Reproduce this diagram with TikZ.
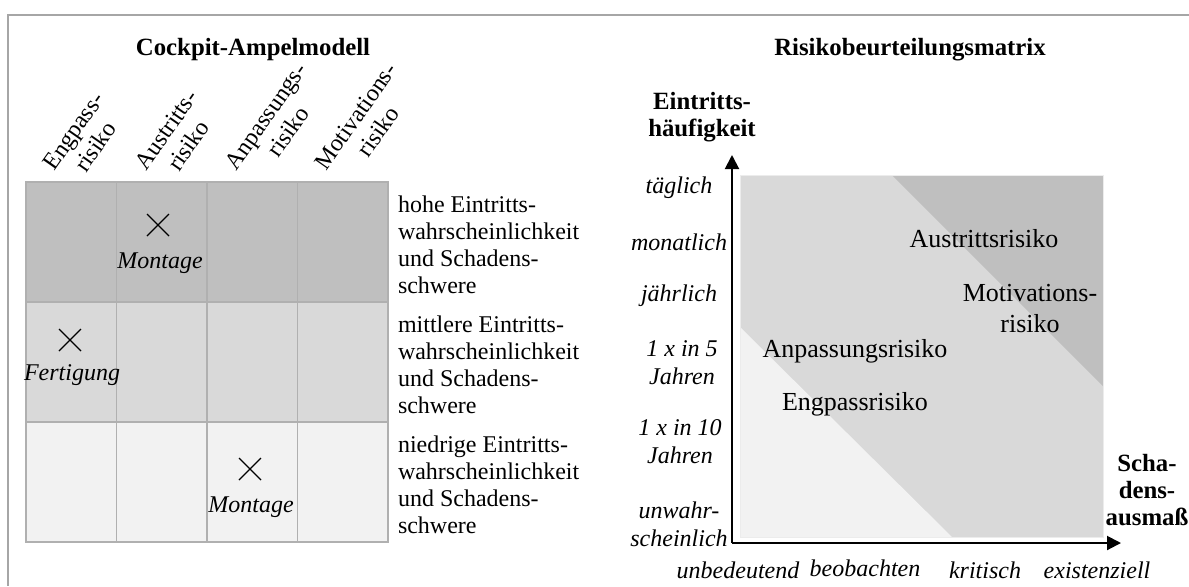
\documentclass[tikz,border=0pt]{standalone}
\usepackage{fontspec}
\setmainfont{Liberation Serif}
\usetikzlibrary{arrows.meta,shapes.misc}

\definecolor{riskhigh}{HTML}{BFBFBF}
\definecolor{riskmid}{HTML}{D9D9D9}
\definecolor{risklow}{HTML}{F2F2F2}
\definecolor{gridline}{HTML}{B0B0B0}
\definecolor{framegray}{HTML}{A6A6A6}

\begin{document}
\begin{tikzpicture}[x=0.5pt,y=-0.5pt,
  every node/.style={inner sep=0pt,outer sep=0pt},
  bodytext/.style={font=\fontsize{12}{13.5}\selectfont},
  heading/.style={font=\fontsize{12.4}{13.5}\selectfont\bfseries,align=center},
  colhead/.style={bodytext,align=center,rotate=55,anchor=south west},
  cellbox/.style={draw=gridline,line width=0.7pt,minimum width=45.25pt,minimum height=60pt},
  xmark/.style={draw,cross out,line width=0.6pt,minimum size=11pt},
  placetext/.style={font=\fontsize{12}{13.5}\selectfont\itshape},
  rowtext/.style={bodytext,align=left,anchor=west},
  scalelabel/.style={font=\fontsize{12}{14}\selectfont\itshape,align=center},
  zone/.style={font=\fontsize{13}{15.5}\selectfont,align=center},
  axisline/.style={line width=1pt,-{Triangle[length=7pt,width=7pt]}}
]
\useasboundingbox (0,0) rectangle (1189,586);

% frame
\draw[framegray,line width=1pt] (1189,15) -- (8,15) -- (8,586);

% ---------- Cockpit-Ampelmodell ----------
\node[heading] (titleL) at (253,50) {Cockpit-Ampelmodell};

\node[colhead] (h1) at (77,187)  {Engpass-\\risiko};
\node[colhead] (h2) at (169,187) {Austritts-\\risiko};
\node[colhead] (h3) at (259,187) {Anpassungs-\\risiko};
\node[colhead] (h4) at (349,187) {Motivations-\\risiko};

\foreach \c/\x in {1/71.25,2/161.75,3/252.25,4/342.75}{
  \node[cellbox,fill=riskhigh] (r1c\c) at (\x,242) {};
  \node[cellbox,fill=riskmid]  (r2c\c) at (\x,362) {};
  \node[cellbox,fill=risklow]  (r3c\c) at (\x,482) {};
}

\node[xmark] (x1) at (158,225) {};
\node[placetext] (p1) at (160,263) {Montage};
\node[xmark] (x2) at (70,340) {};
\node[placetext] (p2) at (72,375) {Fertigung};
\node[xmark] (x3) at (250,469) {};
\node[placetext] (p3) at (251,507) {Montage};

\node[rowtext] (d1) at (398,245) {hohe Eintritts-\\wahrscheinlichkeit\\und Schadens-\\schwere};
\node[rowtext] (d2) at (398,365) {mittlere Eintritts-\\wahrscheinlichkeit\\und Schadens-\\schwere};
\node[rowtext] (d3) at (398,485) {niedrige Eintritts-\\wahrscheinlichkeit\\und Schadens-\\schwere};

% ---------- Risikobeurteilungsmatrix ----------
\node[heading] (titleR) at (910,50) {Risikobeurteilungsmatrix};

\fill[riskmid] (740,175) rectangle (1103,537);
\fill[risklow] (740,327) -- (952,537) -- (740,537) -- cycle;
\fill[riskhigh] (892,175) -- (1103,175) -- (1103,386) -- cycle;
\draw[gray!15,line width=0.5pt] (740,175) rectangle (1103,537);

\node[zone,anchor=base] (zA) at (984,247) {Austrittsrisiko};
\node[zone] (zM) at (1030,309) {Motivations-\\risiko};
\node[zone,anchor=base] (zP) at (855,357) {Anpassungsrisiko};
\node[zone,anchor=base] (zE) at (855,410) {Engpassrisiko};

\coordinate (origin) at (732,543);
\coordinate (ytip) at (732,155);
\coordinate (xtip) at (1121,543);
\draw[axisline] (origin) -- (ytip);
\draw[axisline] (origin) -- (xtip);

\node[heading] (yname) at (702,117) {Eintritts-\\häufigkeit};
\node[heading] (xname) at (1147,490) {Scha-\\dens-\\ausmaß};

\node[scalelabel] (y1) at (679,188) {täglich};
\node[scalelabel] (y2) at (679,242) {monatlich};
\node[scalelabel] (y3) at (679,296) {jährlich};
\node[scalelabel] (y4) at (682,363) {1 x in 5\\Jahren};
\node[scalelabel] (y5) at (680,442) {1 x in 10\\Jahren};
\node[scalelabel] (y6) at (679,524) {unwahr-\\scheinlich};

\node[scalelabel] (s1) at (738,570) {unbedeutend};
\node[scalelabel] (s2) at (865,568) {beobachten};
\node[scalelabel] (s3) at (985,570) {kritisch};
\node[scalelabel] (s4) at (1097,570) {existenziell};
\end{tikzpicture}
\end{document}
